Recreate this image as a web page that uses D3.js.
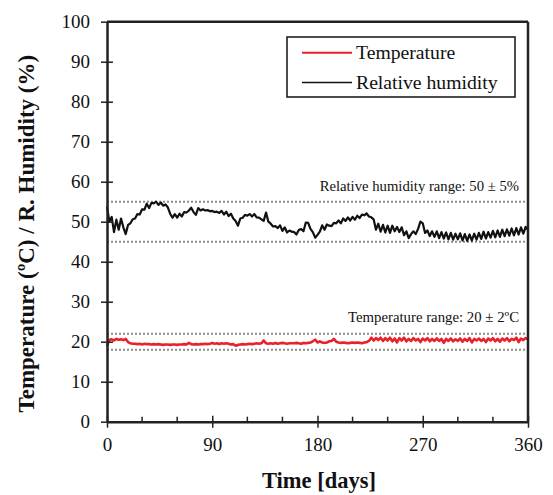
<!DOCTYPE html>
<html><head><meta charset="utf-8">
<script src="https://cdn.jsdelivr.net/npm/d3@7"></script>
<style>body{margin:0;background:#fff}svg{display:block}text{font-family:'Liberation Serif','Times New Roman',serif}</style>
</head><body>
<script>
const days = d3.range(0, 361, 2);
const humidity = [
53.8,50.0,51.2,47.4,50.5,48.0,50.8,48.6,46.9,49.2,
49.6,50.6,50.8,51.9,51.8,53.1,53.0,54.5,53.4,54.7,
54.6,55.0,54.2,54.8,54.0,54.3,53.6,52.0,51.0,51.9,
51.0,52.0,51.3,52.4,52.3,52.8,53.5,52.4,51.7,53.4,
52.8,53.1,52.8,52.9,52.6,52.7,52.4,52.5,52.2,52.7,
51.8,52.5,51.4,52.0,50.8,50.2,49.0,50.8,51.0,51.7,
51.5,51.9,51.3,51.9,51.1,51.0,50.6,50.2,52.3,50.0,
49.5,48.8,48.9,48.4,49.1,47.7,48.6,47.3,47.8,47.5,
47.4,46.8,47.9,48.2,47.6,49.8,49.7,48.2,47.4,46.0,
46.7,47.5,49.1,48.0,49.3,49.0,48.9,49.7,49.6,50.3,
49.6,50.8,50.2,51.1,50.3,51.2,50.5,51.5,50.9,51.8,
51.6,52.1,51.3,51.1,50.6,48.0,49.5,47.5,49.2,47.3,
49.0,47.2,49.0,47.6,48.7,47.4,48.6,46.6,47.6,45.9,
46.9,47.6,46.9,48.2,50.0,49.6,47.2,47.8,46.4,47.6,
46.2,47.6,45.9,47.4,45.8,47.3,45.6,47.2,45.5,47.0,
45.6,47.1,45.3,46.9,45.2,46.8,45.3,47.0,45.5,47.2,
45.7,47.5,45.8,47.4,46.0,47.7,46.1,47.8,46.2,48.0,
46.4,48.1,46.5,48.3,46.6,48.4,46.8,48.6,47.0,48.7,
47.9];
const temperature = [
19.0,20.4,20.6,20.3,20.7,20.5,20.6,20.4,20.7,19.9,
19.6,19.5,19.5,19.4,19.5,19.3,19.5,19.4,19.4,19.3,
19.4,19.3,19.4,19.3,19.2,19.3,19.3,19.2,19.3,19.3,
19.2,19.3,19.3,19.4,19.3,19.7,19.4,19.3,19.4,19.3,
19.4,19.4,19.5,19.4,19.5,19.7,19.5,19.6,19.4,19.6,
19.5,19.6,19.5,19.3,19.4,19.0,19.2,19.3,19.4,19.3,
19.4,19.5,19.4,19.5,19.6,19.5,19.6,20.3,19.6,19.5,
19.6,19.5,19.7,19.5,19.6,19.7,19.6,19.5,19.6,19.6,
19.6,19.7,19.6,19.5,19.7,19.6,19.7,19.8,20.1,20.5,
19.8,20.1,19.8,19.7,19.8,20.1,20.2,20.7,20.0,19.8,
19.7,19.8,19.7,19.6,19.7,19.8,19.7,19.8,19.7,19.6,
19.8,19.9,20.2,21.0,20.3,20.9,20.4,21.0,20.2,20.9,
20.3,21.0,20.1,20.8,19.8,20.9,20.3,21.0,20.1,20.7,
20.2,20.9,20.3,20.7,19.9,20.8,20.3,20.9,20.1,20.7,
20.2,20.8,20.2,20.7,19.7,20.7,20.2,20.8,20.1,20.6,
20.2,20.8,20.0,20.7,20.2,20.9,19.8,20.7,20.3,20.8,
20.2,20.7,19.9,20.8,20.3,20.9,20.1,20.7,20.0,20.8,
20.3,20.9,20.1,20.7,20.4,21.0,19.9,20.8,20.4,20.9,
20.6];
const xTicks = [0, 90, 180, 270, 360];
const xMinorTicks = [30, 60, 120, 150, 210, 240, 300, 330];
const yTicks = [0,10,20,30,40,50,60,70,80,90,100];
const rangeLines = [55, 45, 22, 18];
const seriesNames = ["Temperature", "Relative humidity"];

// ---- layout ----
const W = 553, H = 495;
const m = {left: 107, top: 21.7, right: 25, bottom: 73.3};
const w = W - m.left - m.right, h = H - m.top - m.bottom;
const serif = "'Liberation Serif','Times New Roman',serif";

const svg = d3.select("body").append("svg").attr("width", W).attr("height", H);
const g = svg.append("g").attr("transform", `translate(${m.left},${m.top})`);

const x = d3.scaleLinear().domain([0, 360]).range([0, w]);
const y = d3.scaleLinear().domain([0, 100]).range([h, 0]);

// range dotted lines
g.selectAll(".rng").data(rangeLines).enter().append("line")
  .attr("x1", 0).attr("x2", w).attr("y1", d => y(d)).attr("y2", d => y(d))
  .attr("stroke", "#8c8c8c").attr("stroke-width", 2).attr("stroke-dasharray", "2,2");

// lines
const line = arr => d3.line().x((d, i) => x(days[i])).y(d => y(d))(arr);
g.append("path").attr("d", line(humidity)).attr("fill", "none")
  .attr("stroke", "#111").attr("stroke-width", 2.2).attr("stroke-linejoin", "round");
g.append("path").attr("d", line(temperature)).attr("fill", "none")
  .attr("stroke", "#e8212a").attr("stroke-width", 2.6).attr("stroke-linejoin", "round");

// frame top/right
g.append("line").attr("x1", 0).attr("x2", w).attr("y1", 0).attr("y2", 0)
  .attr("stroke", "#222").attr("stroke-width", 2.5);
g.append("line").attr("x1", w).attr("x2", w).attr("y1", 0).attr("y2", h)
  .attr("stroke", "#222").attr("stroke-width", 2.5);

// y axis
const ya = g.append("g").call(d3.axisLeft(y).tickValues(yTicks).tickSize(6).tickSizeOuter(0).tickPadding(11));
ya.attr("font-family", serif);
ya.select(".domain").attr("stroke", "#222").attr("stroke-width", 2.5);
ya.selectAll(".tick line").attr("x1", 6).attr("x2", -6).attr("stroke", "#222").attr("stroke-width", 1.5);
ya.selectAll(".tick text").style("font-family", serif).attr("font-size", 19).attr("fill", "#111");

// x axis
const xa = g.append("g").attr("transform", `translate(0,${h})`)
  .call(d3.axisBottom(x).tickValues(xTicks).tickSize(6).tickSizeOuter(0).tickPadding(10));
xa.attr("font-family", serif);
xa.select(".domain").attr("stroke", "#222").attr("stroke-width", 2.5);
xa.selectAll(".tick line").attr("y1", -6).attr("y2", 6).attr("stroke", "#222").attr("stroke-width", 1.5);
xa.selectAll(".tick text").style("font-family", serif).attr("font-size", 19).attr("fill", "#111");
xa.selectAll(".minor").data(xMinorTicks).enter().append("line").attr("class", "minor")
  .attr("x1", d => x(d)).attr("x2", d => x(d)).attr("y1", 0).attr("y2", -5)
  .attr("stroke", "#222").attr("stroke-width", 1.5);

// annotations
g.append("text").attr("x", 412).attr("y", 169.3).attr("text-anchor", "end")
  .style("font-family", serif).attr("font-size", 14.7).attr("fill", "#111")
  .text("Relative humidity range: 50 ± 5%");
g.append("text").attr("x", 412).attr("y", 300.3).attr("text-anchor", "end")
  .style("font-family", serif).attr("font-size", 14.8).attr("fill", "#111")
  .text("Temperature range: 20 ± 2ºC");

// legend
const lg = svg.append("g");
lg.append("rect").attr("x", 287).attr("y", 37).attr("width", 228).attr("height", 60)
  .attr("fill", "#fff").attr("stroke", "#111").attr("stroke-width", 1.5);
const lcol = ["#e8212a", "#111"];
const ly = [52.7, 82.5];
seriesNames.forEach((n, i) => {
  lg.append("line").attr("x1", 302).attr("x2", 352).attr("y1", ly[i]).attr("y2", ly[i])
    .attr("stroke", lcol[i]).attr("stroke-width", i === 0 ? 2 : 1.5);
  lg.append("text").attr("x", 356).attr("y", ly[i] + 6.5)
    .style("font-family", serif).attr("font-size", 19.7).attr("fill", "#111").text(n);
});

// axis titles
svg.append("text").attr("x", m.left + w / 2 + 1.5).attr("y", 488).attr("text-anchor", "middle")
  .style("font-family", serif).attr("font-weight", "bold").attr("font-size", 22.5).attr("fill", "#111")
  .text("Time [days]");
svg.append("text").attr("transform", `translate(34,${m.top + h / 2 + 12}) rotate(-90)`)
  .attr("text-anchor", "middle")
  .style("font-family", serif).attr("font-weight", "bold").attr("font-size", 23).attr("fill", "#111")
  .text("Temperature (ºC) / R. Humidity (%)");
</script>
</body></html>
